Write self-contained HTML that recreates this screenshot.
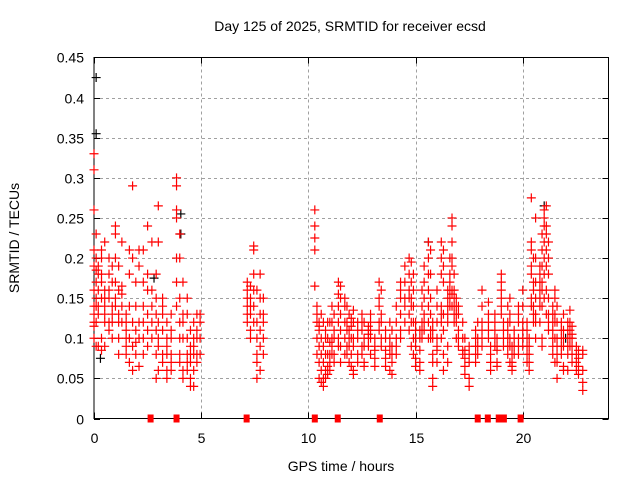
<!DOCTYPE html>
<html><head><meta charset="utf-8"><style>
body{margin:0;background:#fff}
svg{display:block;font-family:"Liberation Sans",sans-serif}
</style></head><body>
<svg id="chart" width="640" height="480" xmlns="http://www.w3.org/2000/svg">
<rect width="640" height="480" fill="#fff"/>
<text x="350" y="31" font-size="14" text-anchor="middle">Day 125 of 2025, SRMTID for receiver ecsd</text>
<text x="341" y="471" font-size="14" text-anchor="middle">GPS time / hours</text>
<text transform="translate(19,238) rotate(-90)" font-size="14" text-anchor="middle">SRMTID / TECUs</text>
<g id="grid"></g><g id="axes"></g><g id="black"></g><g id="red"></g>
</svg>
<script>
const xTicks = [0,5,10,15,20];
const yTicks = [0,0.05,0.1,0.15,0.2,0.25,0.3,0.35,0.4,0.45];
const yTickLabels = ["0","0.05","0.1","0.15","0.2","0.25","0.3","0.35","0.4","0.45"];
const zeroHours = [2.64,3.85,7.12,10.3,11.37,13.33,17.9,18.37,18.88,19.12,19.9];
const blackPoints = [[0.1,0.425],[0.1,0.355],[0.3,0.075],[2.8,0.175],[4.05,0.255],[4.05,0.23],[15.6,0.22],[21.0,0.265],[22.0,0.1]];
const redClusters = [
[0.0,[.13,.14,.12,.16,.19,.21,.26,.31,.33,.10,.115]],
[0.1,[.17,.185,.2,.23,.15,.09,.14,.12]],
[0.2,[.19,.18,.16,.14,.13,.09]],
[0.35,[.085,.1,.15,.17,.2,.21,.18]],
[0.5,[.16,.13,.12,.14,.15,.22,.09]],
[0.7,[.16,.15,.18,.2,.12,.11]],
[0.85,[.19,.17,.14,.13,.12,.1]],
[1.0,[.15,.14,.17,.2,.24,.23]],
[1.15,[.19,.16,.13,.12,.1,.08]],
[1.3,[.155,.165,.22,.14,.12]],
[1.5,[.12,.1,.09,.08,.11,.13]],
[1.65,[.14,.18,.21,.1,.07]],
[1.8,[.29,.2,.12,.09,.06]],
[1.95,[.14,.17,.11,.095,.08]],
[2.1,[.21,.19,.12,.1,.065]],
[2.3,[.21,.17,.14,.12,.1,.08]],
[2.5,[.09,.13,.16,.18,.24,.11]],
[2.7,[.22,.16,.14,.12,.1]],
[2.9,[.18,.15,.13,.11,.08,.05]],
[3.0,[.265,.22,.12,.1,.09,.06]],
[3.2,[.15,.14,.13,.11,.08,.07]],
[3.4,[.12,.1,.09,.08,.06,.05]],
[3.6,[.13,.11,.1,.08,.07,.06]],
[3.85,[.3,.29,.26,.25,.2,.17,.14]],
[4.0,[.23,.2,.15,.12,.1,.08,.07]],
[4.15,[.17,.13,.12,.1,.06,.05]],
[4.35,[.15,.13,.1,.08,.07,.06]],
[4.5,[.11,.09,.08,.07,.05,.04]],
[4.65,[.12,.1,.09,.08,.06,.04]],
[4.8,[.13,.11,.1,.08,.07]],
[4.95,[.13,.12,.1,.08]],
[7.15,[.17,.16,.15,.14,.13,.12]],
[7.3,[.165,.15,.14,.13,.11,.1]],
[7.45,[.215,.21,.18,.16,.14,.12]],
[7.6,[.16,.12,.1,.08,.07,.05]],
[7.75,[.18,.15,.13,.11,.09,.06]],
[7.9,[.15,.13,.12,.1,.08]],
[10.3,[.26,.24,.225,.21,.165]],
[10.4,[.14,.12,.1,.08,.13]],
[10.5,[.11,.09,.07,.05,.12,.115]],
[10.6,[.1,.08,.06,.045,.13]],
[10.7,[.09,.07,.05,.04,.12]],
[10.8,[.1,.08,.06,.05,.11]],
[10.9,[.12,.1,.08,.065,.055]],
[11.0,[.095,.08,.07,.06,.12]],
[11.1,[.14,.12,.1,.09,.08]],
[11.2,[.13,.11,.1,.08,.07]],
[11.4,[.17,.155,.14,.12,.1,.09]],
[11.5,[.165,.15,.13,.11,.09,.07]],
[11.7,[.15,.14,.12,.1,.08]],
[11.8,[.14,.12,.11,.09,.08]],
[11.9,[.13,.11,.1,.09,.07]],
[12.0,[.125,.115,.1,.08,.065]],
[12.1,[.135,.12,.1,.09,.06,.055]],
[12.3,[.12,.11,.1,.08,.07]],
[12.5,[.13,.12,.11,.09,.08]],
[12.6,[.12,.1,.09,.07,.065]],
[12.8,[.115,.11,.105,.1,.09]],
[12.9,[.13,.12,.11,.1,.08]],
[13.1,[.1,.09,.085,.075,.065]],
[13.3,[.17,.15,.14,.12,.11]],
[13.4,[.16,.13,.12,.1,.09]],
[13.6,[.11,.1,.085,.075,.065]],
[13.8,[.12,.1,.09,.08,.06]],
[13.9,[.11,.09,.08,.07,.055]],
[14.1,[.14,.12,.1,.09,.08]],
[14.3,[.17,.16,.15,.13,.11,.1]],
[14.5,[.19,.17,.15,.14,.12]],
[14.7,[.2,.18,.16,.15,.13,.11]],
[14.8,[.195,.17,.15,.14,.12,.09]],
[14.9,[.18,.16,.14,.12,.1,.08]],
[15.0,[.12,.11,.1,.09,.075,.065]],
[15.2,[.11,.1,.085,.07,.06]],
[15.3,[.16,.14,.12,.11,.1]],
[15.4,[.19,.17,.15,.13,.12,.11]],
[15.6,[.22,.2,.18,.16,.14,.12,.1]],
[15.7,[.21,.18,.15,.13,.11,.1]],
[15.8,[.12,.11,.1,.08,.07,.05,.04]],
[16.0,[.16,.14,.12,.1,.09,.085,.07]],
[16.2,[.22,.2,.18,.14,.13,.12,.1]],
[16.3,[.21,.19,.17,.13,.11,.08,.06]],
[16.5,[.16,.15,.14,.13,.12,.09,.07]],
[16.6,[.2,.18,.17,.16,.15,.14]],
[16.7,[.25,.24,.22,.2,.19,.16,.155,.14]],
[16.8,[.18,.16,.15,.14,.13,.12]],
[16.9,[.15,.14,.13,.12,.1]],
[17.0,[.14,.13,.11,.1,.09]],
[17.2,[.12,.1,.085,.08]],
[17.3,[.1,.085,.075,.065,.055]],
[17.5,[.09,.08,.07,.05,.04]],
[17.8,[.11,.1,.09,.08,.07]],
[17.9,[.12,.1,.09,.08]],
[18.1,[.16,.14,.12,.11,.1,.09]],
[18.4,[.145,.13,.12,.11,.1]],
[18.5,[.09,.08,.07,.06]],
[18.7,[.13,.12,.11,.1,.09]],
[18.8,[.1,.09,.085,.07,.065]],
[19.0,[.18,.17,.16,.15,.14,.13]],
[19.1,[.12,.11,.1,.09]],
[19.3,[.14,.12,.11,.1,.09,.08]],
[19.4,[.15,.13,.12,.1,.09,.07]],
[19.5,[.09,.08,.07,.065,.06]],
[19.6,[.11,.1,.09,.08]],
[19.8,[.14,.13,.12,.1,.09,.08]],
[20.0,[.16,.14,.12,.11,.1,.09]],
[20.2,[.12,.11,.1,.09,.08,.07]],
[20.3,[.1,.09,.08,.07,.06]],
[20.4,[.275,.22,.21,.19,.18,.15,.14]],
[20.5,[.2,.17,.16,.14,.13,.12]],
[20.6,[.25,.2,.17,.15,.13,.12,.1]],
[20.8,[.19,.18,.17,.16,.15,.14,.12]],
[20.9,[.23,.21,.19,.17,.16,.14,.1,.09]],
[21.0,[.26,.25,.24,.22,.2,.18,.15]],
[21.1,[.265,.24,.23,.21,.19,.16,.13]],
[21.2,[.22,.2,.18,.15,.13,.12,.11]],
[21.4,[.14,.13,.12,.11,.1,.09,.08]],
[21.5,[.16,.15,.13,.12,.1,.07]],
[21.6,[.14,.12,.1,.09,.08,.07,.05]],
[21.8,[.12,.11,.1,.09,.08]],
[21.9,[.13,.11,.1,.09,.065,.06]],
[22.1,[.12,.11,.1,.09,.08,.06]],
[22.2,[.135,.12,.11,.1,.09]],
[22.3,[.115,.105,.1,.09,.08,.07]],
[22.5,[.09,.08,.07,.06]],
[22.6,[.085,.075,.065,.055]],
[22.8,[.085,.08,.06,.045,.035]]
];
const X0=94, X1=608.5, Y0=418.5, Y1=57.5, XMAX=24, YMAX=0.45;
function sx(h){return X0+(X1-X0)*h/XMAX;}
function sy(v){return Y0-(Y0-Y1)*v/YMAX;}
const NS="http://www.w3.org/2000/svg";
function mk(tag,attrs,parent){const e=document.createElementNS(NS,tag);for(const k in attrs)e.setAttribute(k,attrs[k]);parent.appendChild(e);return e;}
const grid=document.getElementById('grid'), axes=document.getElementById('axes');
yTicks.forEach((t,i)=>{
  const y=Math.round(sy(t))+0.5;
  if(t>0&&t<YMAX){const g=mk('line',{x1:X0,x2:X1,y1:y,y2:y,stroke:'#a0a0a0','stroke-dasharray':'3,3'},grid);
  
  }
  mk('line',{x1:X0,x2:X0+6,y1:y,y2:y,stroke:'#000'},axes);
  mk('line',{x1:X1-6,x2:X1,y1:y,y2:y,stroke:'#000'},axes);
  const l=mk('text',{x:X0-10,y:y+5,'font-size':14,'text-anchor':'end'},axes);
  l.textContent=yTickLabels[i];
  
  
});
xTicks.forEach(t=>{
  const x=Math.round(sx(t))+0.5;
  if(t>0){const g=mk('line',{x1:x,x2:x,y1:Y1,y2:Y0,stroke:'#a0a0a0','stroke-dasharray':'3,3'},grid);
  
  }
  mk('line',{x1:x,x2:x,y1:Y0,y2:Y0-6,stroke:'#000'},axes);
  mk('line',{x1:x,x2:x,y1:Y1,y2:Y1+6,stroke:'#000'},axes);
  const l=mk('text',{x:x,y:443,'font-size':14,'text-anchor':'middle'},axes);
  l.textContent=String(t);
  
  
});
const frame=mk('rect',{x:X0,y:Y1,width:X1-X0,height:Y0-Y1,fill:'none',stroke:'#000'},axes);


function plus(h,v,color,parent,name){
  const x=sx(h), y=sy(v);
  const p=mk('path',{d:`M${x-4.5} ${y}H${x+4.5}M${x} ${y-4.5}V${y+4.5}`,stroke:color,'stroke-width':1.2,fill:'none'},parent);
  
  
}
const black=document.getElementById('black'), red=document.getElementById('red');
blackPoints.forEach(p=>plus(p[0],p[1],'#000',black,'black-point'));
redClusters.forEach(c=>c[1].forEach(v=>plus(c[0],v,'#f00',red,'red-point')));
zeroHours.forEach(h=>{
  const r=mk('rect',{x:sx(h)-3,y:Y0-4,width:6,height:8,fill:'#f00'},red);
  
  
});
</script>
</body></html>
